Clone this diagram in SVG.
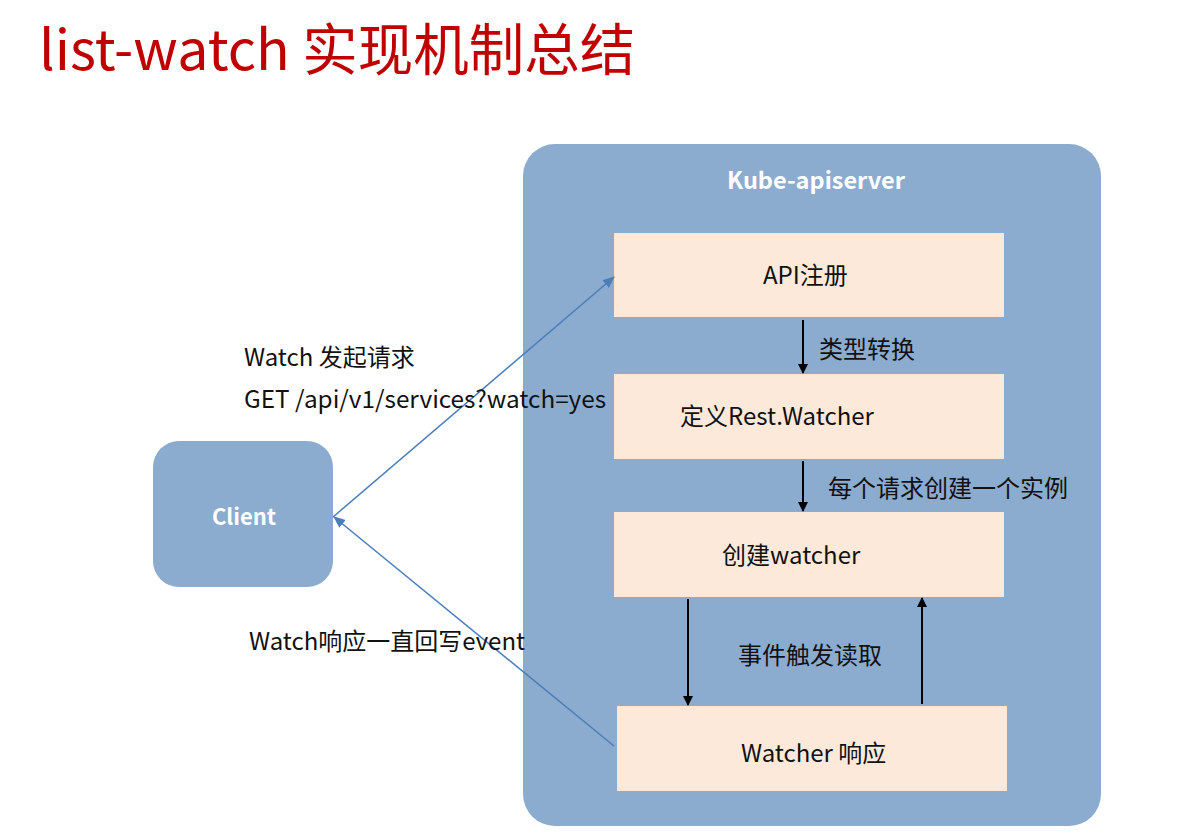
<svg xmlns="http://www.w3.org/2000/svg" width="1193" height="836" viewBox="0 0 1193 836">
<defs>
<style>
.t{font-family:"Noto Sans CJK SC","Noto Sans",sans-serif;}
.lbl{font-size:24px;fill:#111;}
.box{fill:#FCE9D9;}
.blue{fill:#8BACCF;}
.wh{fill:#fff;font-weight:bold;}
.ka{stroke:#000;stroke-width:2;fill:none;}
.ba{stroke:#4A7EBB;stroke-width:1.5;fill:none;}
</style>
<marker id="mk" markerWidth="10" markerHeight="10" refX="9" refY="5" orient="auto" markerUnits="userSpaceOnUse" viewBox="0 0 10 10"><path d="M0,0 L10,5 L0,10 Z" fill="#000"/></marker>
<marker id="mb" markerWidth="12" markerHeight="12" refX="11" refY="6" orient="auto" markerUnits="userSpaceOnUse" viewBox="0 0 12 12"><path d="M0,1 L12,6 L0,11 Z" fill="#4A7EBB"/></marker>
</defs>
<rect width="1193" height="836" fill="#fff"/>
<text id="title" class="t" x="39" y="70" font-size="55.5" fill="#C00000">list-watch 实现机制总结</text>
<g id="apiserver">
<rect class="blue" x="523" y="144" width="578" height="682" rx="32"/>
<text class="t wh" x="816" y="189" font-size="23.5" text-anchor="middle">Kube-apiserver</text>
</g>
<g id="client">
<rect class="blue" x="153" y="441" width="180" height="146" rx="26"/>
<text class="t wh" x="244" y="525" font-size="22" text-anchor="middle">Client</text>
</g>
<g id="api-reg">
<rect class="box" x="614" y="233" width="390" height="84"/>
<text class="t lbl" x="763" y="284">API注册</text>
</g>
<g id="rest-watcher">
<rect class="box" x="614" y="374" width="390" height="85"/>
<text class="t lbl" x="680" y="425">定义Rest.Watcher</text>
</g>
<g id="create-watcher">
<rect class="box" x="614" y="512" width="390" height="85"/>
<text class="t lbl" x="722" y="564">创建watcher</text>
</g>
<g id="watcher-resp">
<rect class="box" x="617" y="706" width="390" height="85"/>
<text class="t lbl" x="741" y="762">Watcher 响应</text>
</g>
<g id="connectors">
<line class="ka" x1="803" y1="320" x2="803" y2="373" marker-end="url(#mk)"/>
<line class="ka" x1="803" y1="461" x2="803" y2="511" marker-end="url(#mk)"/>
<line class="ka" x1="688" y1="599" x2="688" y2="705" marker-end="url(#mk)"/>
<line class="ka" x1="922" y1="704" x2="922" y2="598" marker-end="url(#mk)"/>
<line class="ba" x1="333" y1="517" x2="614" y2="277" marker-end="url(#mb)"/>
<line class="ba" x1="614" y1="746" x2="334" y2="517" marker-end="url(#mb)"/>
</g>
<g id="labels">
<text class="t lbl" x="819" y="358">类型转换</text>
<text class="t lbl" x="828" y="497">每个请求创建一个实例</text>
<text class="t lbl" x="738" y="664">事件触发读取</text>
<text class="t lbl" x="244" y="366">Watch 发起请求</text>
<text class="t lbl" x="244" y="408" textLength="362" lengthAdjust="spacingAndGlyphs">GET /api/v1/services?watch=yes</text>
<text class="t lbl" x="249" y="650">Watch响应一直回写event</text>
</g>
</svg>
